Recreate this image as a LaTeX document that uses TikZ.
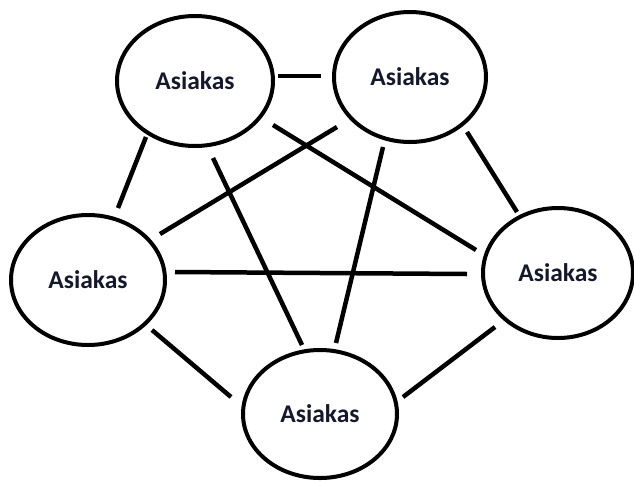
\documentclass[tikz,border=0pt]{standalone}
\usepackage{fontspec}
\setmainfont{Carlito}
\usetikzlibrary{shapes.geometric}
\definecolor{labelink}{HTML}{15182B}
\tikzset{
  client/.style={ellipse, draw=black, line width=4pt, inner sep=0pt,
    font=\fontsize{25.5}{30}\selectfont\bfseries, text=labelink},
  link/.style={draw=black, line width=4.5pt}
}
\begin{document}
\begin{tikzpicture}[x=1pt,y=-1pt]
  \useasboundingbox[fill=white] (0,0) rectangle (634,480);

  % customers
  \node[client, minimum width=156pt, minimum height=130pt] (tl) at (195,81)  {Asiakas};
  \node[client, minimum width=152pt, minimum height=130pt] (tr) at (410,77)  {Asiakas};
  \node[client, minimum width=154pt, minimum height=130pt] (l)  at (88,280)  {Asiakas};
  \node[client, minimum width=150pt, minimum height=130pt] (r)  at (558,273) {Asiakas};
  \node[client, minimum width=154pt, minimum height=128pt] (b)  at (320,414) {Asiakas};

  % free ends of the links (they stop short of the ellipses)
  \coordinate (tltrA) at (278,76);  \coordinate (tltrB) at (321,76);
  \coordinate (tllA)  at (146,137); \coordinate (tllB)  at (118,208);
  \coordinate (tlbA)  at (213,158); \coordinate (tlbB)  at (302,345);
  \coordinate (tlrA)  at (273,125); \coordinate (tlrB)  at (476,250);
  \coordinate (trlA)  at (337,127); \coordinate (trlB)  at (160,234);
  \coordinate (trbA)  at (383,147); \coordinate (trbB)  at (336,343);
  \coordinate (trrA)  at (467,132); \coordinate (trrB)  at (517,212);
  \coordinate (lrA)   at (175,272); \coordinate (lrB)   at (467,274);
  \coordinate (lbA)   at (152,330); \coordinate (lbB)   at (231,397);
  \coordinate (rbA)   at (495,327); \coordinate (rbB)   at (403,397);

  % every customer linked to every other
  \draw[link] (tltrA) -- (tltrB);
  \draw[link] (tllA)  -- (tllB);
  \draw[link] (tlbA)  -- (tlbB);
  \draw[link] (tlrA)  -- (tlrB);
  \draw[link] (trlA)  -- (trlB);
  \draw[link] (trbA)  -- (trbB);
  \draw[link] (trrA)  -- (trrB);
  \draw[link] (lrA)   -- (lrB);
  \draw[link] (lbA)   -- (lbB);
  \draw[link] (rbA)   -- (rbB);
\end{tikzpicture}
\end{document}
